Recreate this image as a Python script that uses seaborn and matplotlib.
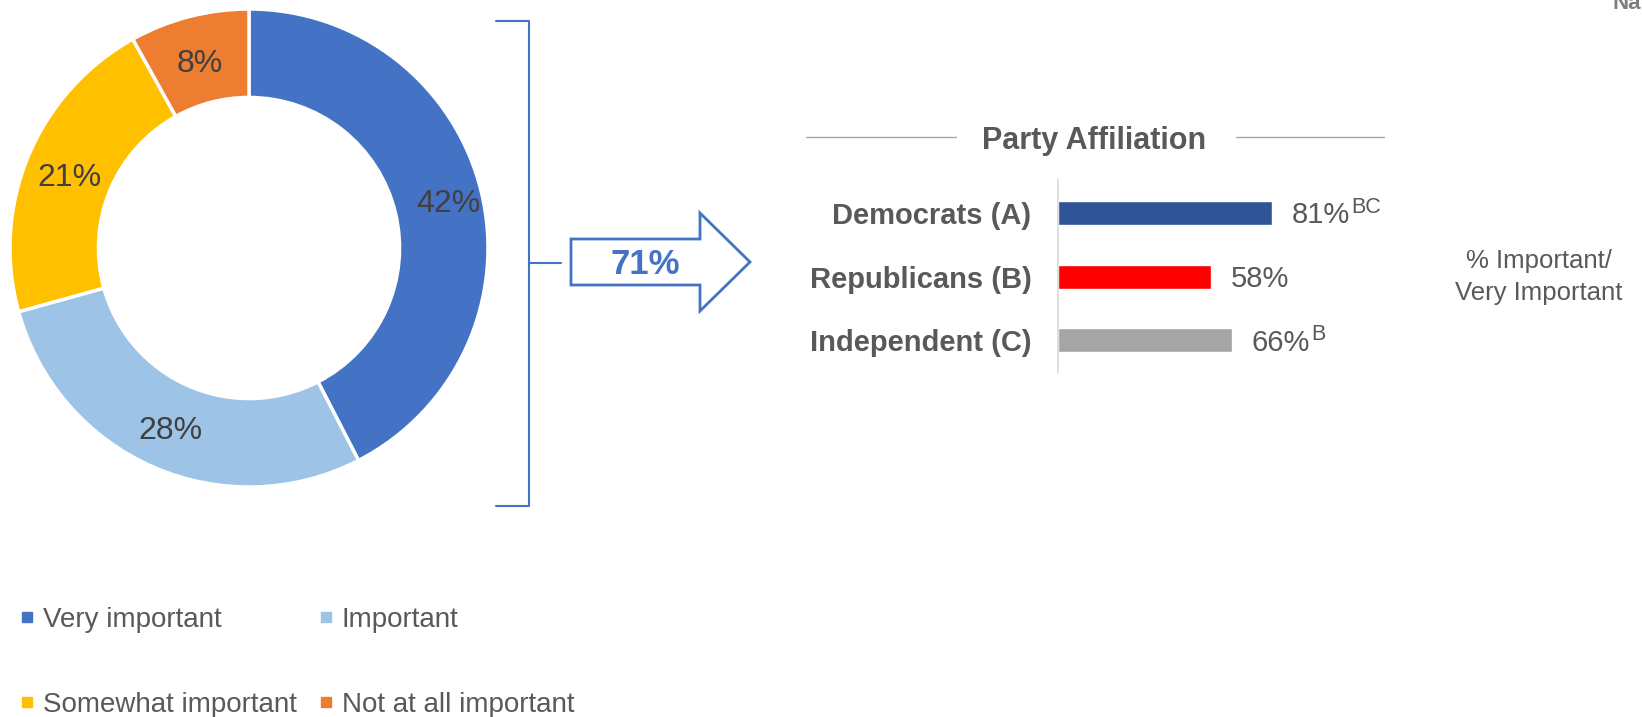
import matplotlib
matplotlib.use("Agg")
import matplotlib.pyplot as plt
from matplotlib.lines import Line2D
from matplotlib.patches import Polygon
import seaborn as sns
import numpy as np
import pandas as pd

# donut: importance of the issue
levels = ["Very important", "Important", "Somewhat important", "Not at all important"]
level_pct = [42, 28, 21, 8]
level_colors = ["#4472C4", "#9DC3E6", "#FFC000", "#ED7D31"]

# bars: % important / very important by party
parties = ["Democrats (A)", "Republicans (B)", "Independent (C)"]
party_pct = [81, 58, 66]
party_sig = ["BC", "", "B"]
party_colors = ["#2F5597", "#FF0000", "#A5A5A5"]

total_label = "71%"

W, H = 1642, 717
GRAY = "#595959"
BLUE = "#4472C4"

sns.set_theme(style="white")
plt.rcParams["font.family"] = ["Liberation Sans", "DejaVu Sans"]

fig = plt.figure(figsize=(W / 100, H / 100), dpi=100)


def fx(x):
    return x / W


def fy(y):
    # y measured from the top of the picture
    return 1 - y / H


# ---- donut ----
cx, cy, r = 249, 248, 239
ax_pie = fig.add_axes([fx(cx - r), fy(cy + r), 2 * r / W, 2 * r / H])
wedges, _ = ax_pie.pie(level_pct, colors=level_colors, startangle=90, counterclock=False,
                       wedgeprops=dict(width=0.37, edgecolor="white", linewidth=2.5))
ax_pie.set_xlim(-1, 1)
ax_pie.set_ylim(-1, 1)
ax_pie.set_aspect("equal")
ax_pie.axis("off")
for w, p in zip(wedges, level_pct):
    ang = np.deg2rad((w.theta1 + w.theta2) / 2)
    rr = 0.86 if p == max(level_pct) else 0.815
    ax_pie.text(rr * np.cos(ang), rr * np.sin(ang) - 0.02, f"{p}%", ha="center", va="center",
                fontsize=23, color="#404040")

# ---- bracket + arrow ----
fig.add_artist(Line2D([fx(496), fx(529), fx(529), fx(496)], [fy(21), fy(21), fy(506), fy(506)],
                      color=BLUE, lw=1.5))
fig.add_artist(Line2D([fx(529), fx(561)], [fy(263), fy(263)], color=BLUE, lw=1.5))
arrow_px = [(571, 239), (700, 239), (700, 213), (750, 262), (700, 311), (700, 285), (571, 285)]
fig.add_artist(Polygon([(fx(x), fy(y)) for x, y in arrow_px], closed=True,
                       facecolor="white", edgecolor=BLUE, lw=2))
fig.text(fx(645), fy(264), total_label, ha="center", va="center", fontsize=25,
         fontweight="bold", color=BLUE)

# ---- party bars ----
df = pd.DataFrame({"party": parties, "pct": party_pct})
ax = fig.add_axes([fx(1058), fy(372), 264 / W, 192 / H])
sns.barplot(data=df, x="pct", y="party", hue="party", palette=party_colors, order=parties,
            hue_order=parties, orient="h", width=0.38, saturation=1, legend=False, ax=ax)
ax.set_xlim(0, 100)
ax.set_ylim(2.5, -0.52)
ax.set_xlabel("")
ax.set_ylabel("")
ax.set_xticks([])
for s in ["top", "right", "bottom"]:
    ax.spines[s].set_visible(False)
ax.spines["left"].set_color("#D9D9D9")
ax.spines["left"].set_linewidth(1.2)
ax.tick_params(axis="y", length=0, pad=19, labelsize=21, labelcolor=GRAY)
for lab in ax.get_yticklabels():
    lab.set_fontweight("bold")

for i, (v, sig) in enumerate(zip(party_pct, party_sig)):
    t = ax.annotate(f"{v}%", xy=(v, i), xytext=(14, -7.5), textcoords="offset points",
                    ha="left", va="baseline", fontsize=21, color=GRAY)
    if sig:
        ax.annotate(sig, xy=(1, 1), xycoords=t, xytext=(1, 3), textcoords="offset points",
                    ha="left", va="top", fontsize=15.5, color=GRAY)

fig.text(fx(1094), fy(141), "Party Affiliation", ha="center", va="center", fontsize=22,
         fontweight="bold", color=GRAY)
fig.add_artist(Line2D([fx(806), fx(956)], [fy(137), fy(137)], color="#A6A6A6", lw=1))
fig.add_artist(Line2D([fx(1236), fx(1384)], [fy(137), fy(137)], color="#A6A6A6", lw=1))

fig.text(fx(1539), fy(277), "% Important/\nVery Important", ha="center", va="center",
         fontsize=18.5, color=GRAY, linespacing=1.45)
fig.text(fx(1612), fy(9), "Na", ha="left", va="baseline", fontsize=16, fontweight="bold",
         color="#7F7F7F")

# ---- legend (row-wise order) ----
handles = [Line2D([], [], marker="s", ls="", markersize=6.5, color=c) for c in level_colors]
order = [0, 2, 1, 3]
fig.legend([handles[k] for k in order], [levels[k] for k in order], ncol=2,
           loc="upper left", bbox_to_anchor=(fx(21), fy(607)), frameon=False,
           borderpad=0, borderaxespad=0, fontsize=20, handlelength=0.4, handletextpad=0.38,
           columnspacing=0.85, labelspacing=2.12, labelcolor=GRAY)

fig.savefig("out.png", dpi=100)
